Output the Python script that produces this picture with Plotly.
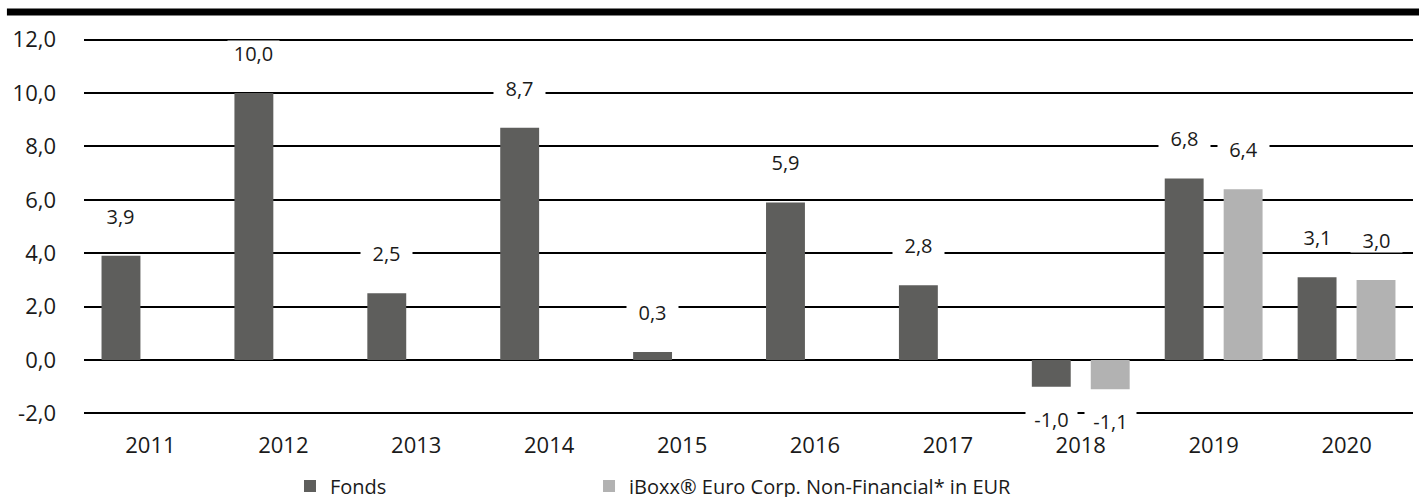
import plotly.graph_objects as go

years = ["2011", "2012", "2013", "2014", "2015", "2016", "2017", "2018", "2019", "2020"]
fonds = [3.9, 10.0, 2.5, 8.7, 0.3, 5.9, 2.8, -1.0, 6.8, 3.1]
iboxx = [None, None, None, None, None, None, None, -1.1, 6.4, 3.0]
series_names = ["Fonds", "iBoxx® Euro Corp. Non-Financial* in EUR"]
y_tickvals = [-2, 0, 2, 4, 6, 8, 10, 12]
y_ticktext = ["-2,0", "0,0", "2,0", "4,0", "6,0", "8,0", "10,0", "12,0"]

DARK = "#5e5e5c"
LIGHT = "#b2b2b2"
FONT = "Open Sans"
TXT = "#1a1a1a"

fig = go.Figure()
fig.add_trace(go.Bar(x=years, y=fonds, name=series_names[0], legend="legend",
                     marker=dict(color=DARK, line=dict(width=0))))
fig.add_trace(go.Bar(x=years, y=iboxx, name=series_names[1], legend="legend2",
                     marker=dict(color=LIGHT, line=dict(width=0))))

def fmt(v):
    return f"{v:.1f}".replace(".", ",")

annotations = []
for vals, xs in ((fonds, -29.5), (iboxx, 29.5)):
    for i, v in enumerate(vals):
        if v is None:
            continue
        annotations.append(dict(
            x=i, y=v, xref="x", yref="y", text=fmt(v), showarrow=False,
            xshift=xs, yshift=(40 if v >= 0 else -32), yanchor="middle",
            bgcolor="white", borderpad=0, width=51, height=24, valign="middle",
            font=dict(family=FONT, size=20, color=TXT),
        ))

legend_common = dict(orientation="h", xanchor="left", y=-0.1845, yanchor="middle",
                     font=dict(family=FONT, size=20, color=TXT), bgcolor="rgba(0,0,0,0)")

fig.update_layout(
    width=1419, height=497,
    margin=dict(l=84, r=6, t=36.6, b=81.0, autoexpand=False),
    paper_bgcolor="white", plot_bgcolor="white",
    barmode="group", bargap=0.113, bargroupgap=0.34,
    separators=",.",
    font=dict(family=FONT, size=22, color=TXT),
    showlegend=True,
    legend=dict(x=0.155, **legend_common),
    legend2=dict(x=0.38, **legend_common),
    annotations=annotations,
    shapes=[dict(type="line", xref="paper", yref="paper", x0=-0.058, x1=1.01, y0=1.0662, y1=1.0662,
                 line=dict(color="black", width=7))],
)
fig.update_xaxes(type="category", range=[-0.5, len(years) - 0.5],
                 showgrid=False, showline=False, zeroline=False, ticks="",
                 ticklabelstandoff=14, tickfont=dict(family=FONT, size=22, color=TXT))
fig.update_yaxes(range=[-2.1, 12.1], tickvals=y_tickvals, ticktext=y_ticktext,
                 showgrid=True, gridcolor="black", gridwidth=2,
                 zeroline=True, zerolinecolor="black", zerolinewidth=2,
                 showline=False, ticks="", ticklabelstandoff=27,
                 tickfont=dict(family=FONT, size=22, color=TXT))

fig.write_html("out.html", config={"displayModeBar": False},
               post_script="document.body.style.margin='0';")
